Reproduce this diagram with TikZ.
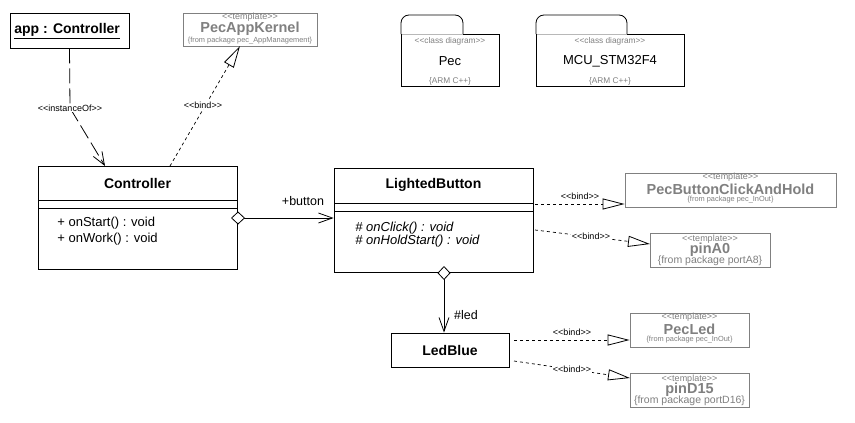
\documentclass[tikz,border=0pt]{standalone}
\usepackage{fontspec}
\setmainfont{Liberation Sans}
\usetikzlibrary{arrows.meta}
\definecolor{tgray}{HTML}{808080}
\definecolor{lgray}{HTML}{B8B8B8}
\newcommand\UmlOpen{<\kern0pt<}
\newcommand\UmlClose{>\kern0pt>}
\begin{document}
\begin{tikzpicture}[x=1pt,y=-1pt,line width=0.8pt,
  box/.style={draw, line width=0.8pt, inner sep=0pt},
  tbox/.style={draw=tgray, line width=0.8pt, inner sep=0pt},
  ttl/.style={font=\fontsize{14}{16}\selectfont\bfseries, inner sep=0pt},
  mem/.style={font=\fontsize{13}{15}\selectfont, inner sep=0pt, anchor=west},
  imem/.style={mem, font=\fontsize{13}{15}\selectfont\itshape},
  stt/.style={font=\fontsize{9}{10}\selectfont, text=tgray, inner sep=0pt},
  tnm/.style={font=\fontsize{14.5}{16}\selectfont\bfseries, text=tgray, inner sep=0pt},
  frm/.style={font=\fontsize{7.4}{8}\selectfont, text=tgray, inner sep=0pt},
  frmb/.style={font=\fontsize{10.5}{12}\selectfont, text=tgray, inner sep=0pt},
  lbl/.style={font=\fontsize{9}{10}\selectfont, inner sep=1pt},
  wlbl/.style={lbl, fill=white},
  rlbl/.style={font=\fontsize{12.5}{14}\selectfont, inner sep=0pt},
  pkgname/.style={font=\fontsize{13}{15}\selectfont, inner sep=0pt},
  pkgsmall/.style={font=\fontsize{8.3}{9}\selectfont, text=tgray, inner sep=0pt},
  bindln/.style={dash pattern=on 3pt off 3pt, line width=0.7pt, -{Triangle[length=22pt,width=11pt,fill=white,line width=0.8pt]}},
  instln/.style={dash pattern=on 15pt off 5pt, line width=0.8pt, -{Straight Barb[length=13pt,width=10pt,line width=0.8pt]}},
  assocln/.style={line width=0.8pt, {Diamond[length=14pt,width=13pt,fill=white,line width=0.8pt]}-{Straight Barb[length=14pt,width=10pt,line width=0.8pt]}}
]
\useasboundingbox (0,0) rectangle (855,423);
\fill[white] (0,0) rectangle (855,423);

% app : Controller
\node[box, minimum width=119pt, minimum height=35pt] (app) at (69.5,30.5) {};
\node[anchor=west, inner sep=0pt, font=\fontsize{14}{16}\selectfont\bfseries] (appT) at (14,31) {\underline{app : Controller}};

% PecAppKernel
\node[tbox, minimum width=134pt, minimum height=33pt] (pak) at (250,29.5) {};
\node[stt] (pakS) at (250,17) {\UmlOpen template\UmlClose};
\node[tnm] (pakN) at (250,29) {PecAppKernel};
\node[frm] (pakF) at (250,40.5) {\{from package pec\_AppManagement\}};

% Packages
\draw[rounded corners=8pt] (401,34) -- (401,15) -- (463,15) -- (463,34);
\draw (463,34) -- (499,34) -- (499,86) -- (401,86) -- (401,34);
\draw[lgray] (401.5,34) -- (462.5,34);
\node[pkgsmall] (pecS) at (450,41) {\UmlOpen class diagram\UmlClose};
\node[pkgname] (pecN) at (450,61) {Pec};
\node[pkgsmall] (pecA) at (450,81) {\{ARM C++\}};

\draw[rounded corners=8pt] (536,34) -- (536,15) -- (627,15) -- (627,34);
\draw (627,34) -- (684,34) -- (684,86) -- (536,86) -- (536,34);
\draw[lgray] (536.5,34) -- (626.5,34);
\node[pkgsmall] (mcuS) at (610,41) {\UmlOpen class diagram\UmlClose};
\node[pkgname] (mcuN) at (610,61) {MCU\_STM32F4};
\node[pkgsmall] (mcuA) at (610,81) {\{ARM C++\}};

% Controller
\node[box, minimum width=199pt, minimum height=103pt] (ctrl) at (137.5,217.5) {};
\node[ttl] (ctrlT) at (137.5,183) {Controller};
\draw (38,200) -- (237,200);
\draw (38,208) -- (237,208);
\node[mem] (ctrlM1) at (57,223) {+ onStart() : void};
\node[mem] (ctrlM2) at (57,239) {+ onWork() : void};

% LightedButton
\node[box, minimum width=199pt, minimum height=104pt] (lb) at (433.5,220) {};
\node[ttl] (lbT) at (433.5,185) {LightedButton};
\draw (334,203) -- (533,203);
\draw (334,211) -- (533,211);
\node[imem] (lbM1) at (355,228) {\# onClick() : void};
\node[imem] (lbM2) at (355,241) {\# onHoldStart() : void};

% LedBlue
\node[box, minimum width=118pt, minimum height=34pt, font=\fontsize{14}{16}\selectfont\bfseries] (led) at (450,350) {LedBlue};

% PecButtonClickAndHold
\node[tbox, minimum width=211pt, minimum height=34pt] (pbc) at (730.5,190) {};
\node[stt] (pbcS) at (730.5,177) {\UmlOpen template\UmlClose};
\node[tnm] (pbcN) at (730.5,189) {PecButtonClickAndHold};
\node[frm] (pbcF) at (730.5,199.5) {\{from package pec\_InOut\}};

% pinA0
\node[tbox, minimum width=120pt, minimum height=34pt] (pa) at (710,250) {};
\node[stt] (paS) at (710,239) {\UmlOpen template\UmlClose};
\node[tnm] (paN) at (710,249.5) {pinA0};
\node[frmb] (paF) at (710,260.5) {\{from package portA8\}};

% PecLed
\node[tbox, minimum width=119pt, minimum height=34pt] (pl) at (689.5,330) {};
\node[stt] (plS) at (689.5,317) {\UmlOpen template\UmlClose};
\node[tnm] (plN) at (689.5,329) {PecLed};
\node[frm] (plF) at (689.5,339.5) {\{from package pec\_InOut\}};

% pinD15
\node[tbox, minimum width=119pt, minimum height=34pt] (pd) at (689.5,390) {};
\node[stt] (pdS) at (689.5,379) {\UmlOpen template\UmlClose};
\node[tnm] (pdN) at (689.5,389.5) {pinD15};
\node[frmb] (pdF) at (689.5,400.5) {\{from package portD16\}};

% connectors
\coordinate (ib) at (70,108);
\coordinate (ie) at (105,166);
\draw[instln] (app.south) -- (ib) -- (ie);
\node[wlbl] (instL) at (ib) {\UmlOpen instanceOf\UmlClose};

\coordinate (bs) at (170,166);
\coordinate (be) at (240,46);
\draw[bindln] (bs) -- (be);
\node[wlbl] (bindK) at (203,105) {\UmlOpen bind\UmlClose};

\coordinate (as) at (231,218);
\draw[assocln] (as) -- (as -| lb.west);
\node[rlbl] (btnL) at (303,201) {+button};

\coordinate (ls) at (444,266);
\draw[assocln] (ls) -- (ls |- led.north);
\node[rlbl] (ledL) at (466,315) {\#led};

\coordinate (b1) at (535,204);
\draw[bindln] (b1) -- (b1 -| pbc.west);
\node[lbl] (b1L) at (580,196) {\UmlOpen bind\UmlClose};

\coordinate (b2) at (535,230);
\coordinate (b2e) at (650,244);
\draw[bindln] (b2) -- (b2e);
\node[wlbl] (b2L) at (591,236) {\UmlOpen bind\UmlClose};

\coordinate (b3) at (514,340);
\draw[bindln] (b3) -- (b3 -| pl.west);
\node[lbl] (b3L) at (572,332) {\UmlOpen bind\UmlClose};

\coordinate (b4) at (514,361);
\coordinate (b4e) at (630,378);
\draw[bindln] (b4) -- (b4e);
\node[wlbl] (b4L) at (572,369) {\UmlOpen bind\UmlClose};
\end{tikzpicture}
\end{document}
